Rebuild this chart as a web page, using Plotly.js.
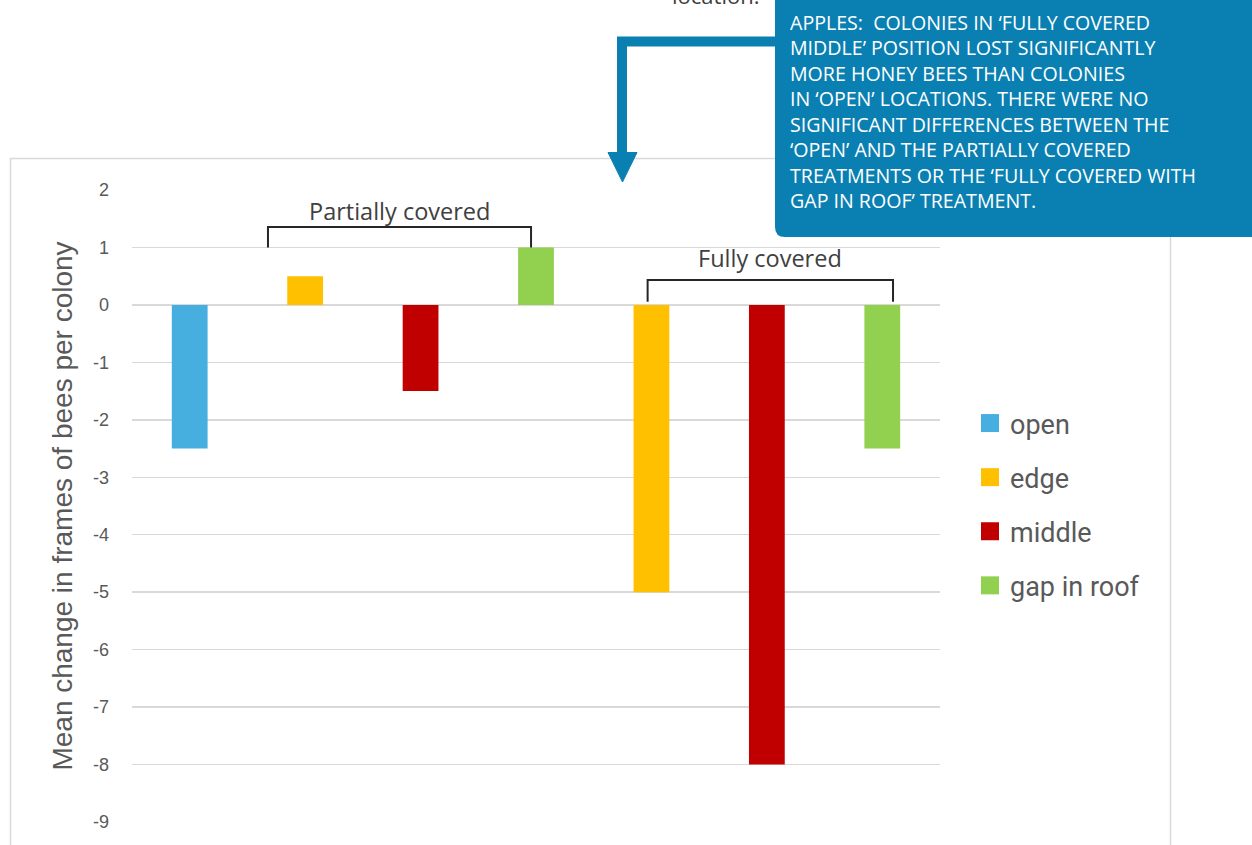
<!DOCTYPE html>
<html>
<head>
<meta charset="utf-8">
<script src="https://cdn.plot.ly/plotly-3.0.1.min.js"></script>
<style>
  html, body { margin: 0; padding: 0; background: #ffffff; }
  #chart { width: 1252px; height: 845px; }
</style>
</head>
<body>
<div id="chart"></div>
<script>
// Hive positions, in plotting order
const positions = [
  'Open',
  'Partially covered: edge',
  'Partially covered: middle',
  'Partially covered: gap in roof',
  'Fully covered: edge',
  'Fully covered: middle',
  'Fully covered: gap in roof'
];

// Mean change in frames of bees per colony, one array per legend entry
const seriesNames = ['open', 'edge', 'middle', 'gap in roof'];
const openValues   = [-2.5, null, null, null, null, null, null];
const edgeValues   = [null, 0.5, null, null, -5, null, null];
const middleValues = [null, null, -1.5, null, null, -8, null];
const gapValues    = [null, null, null, 1, null, null, -2.5];
const seriesColors = ['#47afe0', '#ffc000', '#c00000', '#92d050'];

const yTicks = [2, 1, 0, -1, -2, -3, -4, -5, -6, -7, -8, -9];

const calloutText = [
  'APPLES:  COLONIES IN ‘FULLY COVERED',
  'MIDDLE’ POSITION LOST SIGNIFICANTLY',
  'MORE HONEY BEES THAN COLONIES',
  'IN ‘OPEN’ LOCATIONS. THERE WERE NO',
  'SIGNIFICANT DIFFERENCES BETWEEN THE',
  '‘OPEN’ AND THE PARTIALLY COVERED',
  'TREATMENTS OR THE ‘FULLY COVERED WITH',
  'GAP IN ROOF’ TREATMENT.'
];

const allValues = [openValues, edgeValues, middleValues, gapValues];

const traces = seriesNames.map((name, i) => ({
  type: 'bar',
  name: name,
  legendgroup: name,
  x: positions,
  y: allValues[i],
  width: 0.31,
  marker: { color: seriesColors[i], line: { width: 0 } },
  hoverinfo: 'y+name'
}));

// plot area: 132..940 px horizontally, 190..822 px vertically
const L = 132, T = 190, W = 808, H = 632;
const px = v => (v - L) / W;          // pixel x -> paper x
const py = v => (T + H - v) / H;      // pixel y -> paper y

const blue = '#0a80b2';

// callout box with a rounded lower-left corner
const bx0 = px(775), bx1 = px(1262), byT = py(-10), byB = py(237);
const rx = 10 / W, ry = 10 / H;
const calloutPath = `M ${bx0},${byT} L ${bx1},${byT} L ${bx1},${byB} L ${bx0 + rx},${byB} Q ${bx0},${byB} ${bx0},${byB + ry} Z`;

// elbow connector from the callout down to the chart
const armPath = `M ${px(776)},${py(41.5)} L ${px(622)},${py(41.5)} L ${px(622)},${py(154)}`;
const headPath = `M ${px(608)},${py(152.5)} L ${px(637)},${py(152.5)} L ${px(622.5)},${py(182)} Z`;

// square brackets grouping the covered treatments
const bracket = (x0, x1, yTop, yLeg) => ({
  type: 'path', xref: 'x', yref: 'y',
  path: `M ${x0},${yLeg} L ${x0},${yTop} L ${x1},${yTop} L ${x1},${yLeg}`,
  line: { color: '#262626', width: 2 }
});

const layout = {
  width: 1252,
  height: 845,
  margin: { l: L, r: 1252 - L - W, t: T, b: 845 - T - H, pad: 0 },
  paper_bgcolor: '#ffffff',
  plot_bgcolor: '#ffffff',
  barmode: 'overlay',
  showlegend: true,
  legend: {
    x: px(970), xanchor: 'left',
    y: py(399), yanchor: 'top',
    font: { family: 'Roboto, sans-serif', size: 27, color: '#595959' },
    tracegroupgap: 16,
    bgcolor: 'rgba(0,0,0,0)'
  },
  xaxis: {
    type: 'category',
    range: [-0.5, 6.5],
    showticklabels: false,
    showgrid: false,
    zeroline: false,
    showline: false,
    ticks: '',
    fixedrange: true
  },
  yaxis: {
    range: [-9.0001, 2.0001],
    tickvals: yTicks,
    ticktext: yTicks.map(String),
    ticklabelstandoff: 22,
    tickfont: { family: 'Liberation Sans, Arial, sans-serif', size: 18, color: '#595959' },
    showgrid: true,
    gridcolor: '#d9d9d9',
    gridwidth: 1.5,
    zeroline: false,
    showline: false,
    ticks: '',
    title: {
      text: 'Mean change in frames of bees per colony',
      font: { family: 'Liberation Sans, Arial, sans-serif', size: 28, color: '#595959' },
      standoff: 12
    },
    fixedrange: true
  },
  shapes: [
    // chart frame
    {
      type: 'rect', xref: 'paper', yref: 'paper', layer: 'below',
      x0: px(10.5), x1: px(1170.5), y0: py(860), y1: py(158.5),
      line: { color: '#d9d9d9', width: 1.5 }, fillcolor: 'rgba(0,0,0,0)'
    },
    bracket(0.678, 2.957, 1.357, 1.0),
    bracket(3.967, 6.093, 0.435, 0.057),
    // connector and callout
    {
      type: 'path', xref: 'paper', yref: 'paper',
      path: armPath, line: { color: blue, width: 10 }
    },
    {
      type: 'path', xref: 'paper', yref: 'paper',
      path: headPath, fillcolor: blue, line: { color: blue, width: 1 }
    },
    {
      type: 'path', xref: 'paper', yref: 'paper',
      path: calloutPath, fillcolor: blue, line: { width: 0 }
    }
  ],
  annotations: [
    {
      xref: 'x', yref: 'y', x: 1.8175, y: 1.357,
      text: 'Partially covered', showarrow: false,
      yanchor: 'bottom', yshift: -2,
      font: { family: 'Open Sans, sans-serif', size: 23.5, color: '#404040' }
    },
    {
      xref: 'x', yref: 'y', x: 5.03, y: 0.435,
      text: 'Fully covered', showarrow: false,
      yanchor: 'bottom', yshift: 4,
      font: { family: 'Open Sans, sans-serif', size: 23.5, color: '#404040' }
    },
    {
      xref: 'paper', yref: 'paper', x: px(715), y: py(0),
      text: 'location.', showarrow: false,
      xanchor: 'center', yanchor: 'middle', yshift: 5,
      font: { family: 'Open Sans, sans-serif', size: 22, color: '#404040' }
    },
    {
      xref: 'paper', yref: 'paper', x: px(788), y: py(7),
      text: calloutText.join('<br>'), showarrow: false,
      xanchor: 'left', yanchor: 'top', align: 'left',
      font: { family: 'Open Sans, sans-serif', size: 19.6, color: '#ffffff' }
    }
  ]
};

Plotly.newPlot('chart', traces, layout, { displayModeBar: false, staticPlot: true }).then(gd => {
  // enlarge the legend swatches to match the label size
  gd.querySelectorAll('.legend .legendpoints path').forEach(p => {
    p.setAttribute('d', 'M9,9H-9V-9H9Z');
  });
});
</script>
</body>
</html>
